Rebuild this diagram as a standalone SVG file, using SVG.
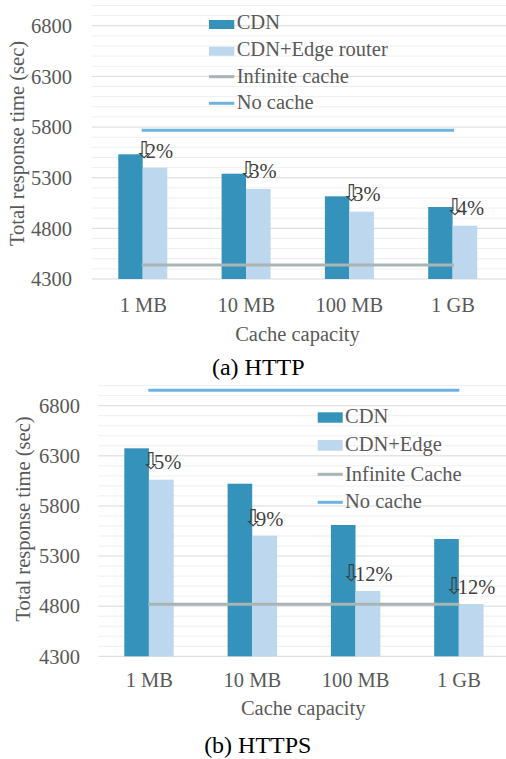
<svg xmlns="http://www.w3.org/2000/svg" width="506" height="759" viewBox="0 0 506 759">
<style>
.t{fill:#595959;font-size:20.5px;font-family:"Liberation Serif","Times New Roman",serif;}
.tick{fill:#595959;font-size:20.5px;text-anchor:end;font-family:"Liberation Serif","Times New Roman",serif;}
.cat{fill:#595959;font-size:20.5px;text-anchor:middle;font-family:"Liberation Serif","Times New Roman",serif;}
.pct{fill:#404040;font-size:20.5px;font-family:"Liberation Serif","Times New Roman",serif;}
.arr{fill:#404040;font-size:23px;font-family:"DejaVu Sans",sans-serif;}
.cap{fill:#000;font-size:24px;text-anchor:middle;font-family:"Liberation Serif","Times New Roman",serif;}
.mj{stroke:#d9d9d9;stroke-width:1;}
.mn{stroke:#efefef;stroke-width:1;}
.cdn{fill:#3593bb;}
.edge{fill:#bdd7ee;}
.inf{stroke:#a9b4b4;stroke-width:3;fill:none;}
.noc{stroke:#6cb2e2;stroke-width:3;fill:none;}
</style>

<!-- ===== Chart (a) HTTP ===== -->
<g id="gridA">
<g class="mn">
<line x1="92" x2="506" y1="5.49" y2="5.49"/><line x1="92" x2="506" y1="15.62" y2="15.62"/>
<line x1="92" x2="506" y1="35.88" y2="35.88"/><line x1="92" x2="506" y1="46.01" y2="46.01"/><line x1="92" x2="506" y1="56.14" y2="56.14"/><line x1="92" x2="506" y1="66.27" y2="66.27"/>
<line x1="92" x2="506" y1="86.53" y2="86.53"/><line x1="92" x2="506" y1="96.66" y2="96.66"/><line x1="92" x2="506" y1="106.79" y2="106.79"/><line x1="92" x2="506" y1="116.92" y2="116.92"/>
<line x1="92" x2="506" y1="137.18" y2="137.18"/><line x1="92" x2="506" y1="147.31" y2="147.31"/><line x1="92" x2="506" y1="157.44" y2="157.44"/><line x1="92" x2="506" y1="167.57" y2="167.57"/>
<line x1="92" x2="506" y1="187.83" y2="187.83"/><line x1="92" x2="506" y1="197.96" y2="197.96"/><line x1="92" x2="506" y1="208.09" y2="208.09"/><line x1="92" x2="506" y1="218.22" y2="218.22"/>
<line x1="92" x2="506" y1="238.48" y2="238.48"/><line x1="92" x2="506" y1="248.61" y2="248.61"/><line x1="92" x2="506" y1="258.74" y2="258.74"/><line x1="92" x2="506" y1="268.87" y2="268.87"/>
</g>
<g class="mj">
<line x1="92" x2="506" y1="25.75" y2="25.75"/><line x1="92" x2="506" y1="76.4" y2="76.4"/><line x1="92" x2="506" y1="127.05" y2="127.05"/><line x1="92" x2="506" y1="177.7" y2="177.7"/><line x1="92" x2="506" y1="228.35" y2="228.35"/><line x1="92" x2="506" y1="279" y2="279"/>
</g>
</g>
<g id="axisA">
<text class="tick" x="72" y="33">6800</text>
<text class="tick" x="72" y="83.6">6300</text>
<text class="tick" x="72" y="134.3">5800</text>
<text class="tick" x="72" y="184.9">5300</text>
<text class="tick" x="72" y="235.6">4800</text>
<text class="tick" x="72" y="286.2">4300</text>
<text class="t" transform="translate(24,143.5) rotate(-90)" text-anchor="middle">Total response time (sec)</text>
<text class="cat" x="143.3" y="311.5">1 MB</text>
<text class="cat" x="246.3" y="311.5">10 MB</text>
<text class="cat" x="349.3" y="311.5">100 MB</text>
<text class="cat" x="453" y="311.5">1 GB</text>
<text class="t" x="297.5" y="340.5" text-anchor="middle">Cache capacity</text>
</g>
<g id="barsA">
<rect class="cdn" x="118.3" y="154.3" width="24.4" height="124.7"/>
<rect class="edge" x="142.7" y="167.7" width="24.6" height="111.3"/>
<rect class="cdn" x="221.6" y="173.7" width="24.4" height="105.3"/>
<rect class="edge" x="246" y="189" width="24.6" height="90"/>
<rect class="cdn" x="324.9" y="196.3" width="24.4" height="82.7"/>
<rect class="edge" x="349.3" y="211.7" width="24.6" height="67.3"/>
<rect class="cdn" x="428.2" y="207" width="24.4" height="72"/>
<rect class="edge" x="452.6" y="225.7" width="24.6" height="53.3"/>
</g>
<g id="linesA">
<line class="inf" x1="141.7" x2="454" y1="265" y2="265"/>
<line class="noc" x1="141.7" x2="454" y1="130.3" y2="130.3"/>
</g>
<g id="labelsA">
<text y="158.3"><tspan class="arr" x="134.5">⇩</tspan><tspan class="pct" x="145.7">2%</tspan></text>
<text y="178.3"><tspan class="arr" x="238.5">⇩</tspan><tspan class="pct" x="249.3">3%</tspan></text>
<text y="201"><tspan class="arr" x="341.8">⇩</tspan><tspan class="pct" x="353.3">3%</tspan></text>
<text y="215"><tspan class="arr" x="445.2">⇩</tspan><tspan class="pct" x="456.7">4%</tspan></text>
</g>
<g id="legendA">
<rect class="cdn" x="209" y="20" width="25.3" height="9"/>
<text class="t" x="236.7" y="29.3">CDN</text>
<rect class="edge" x="209" y="46.7" width="25.3" height="9"/>
<text class="t" x="236.7" y="56">CDN+Edge router</text>
<line class="inf" x1="209" x2="234.3" y1="76.7" y2="76.7"/>
<text class="t" x="236.7" y="82.7">Infinite cache</text>
<line class="noc" x1="209" x2="234.3" y1="103.3" y2="103.3"/>
<text class="t" x="236.7" y="109.3">No cache</text>
</g>
<text class="cap" x="258.3" y="375">(a) HTTP</text>

<!-- ===== Chart (b) HTTPS ===== -->
<g id="gridB">
<g class="mn">
<line x1="98.3" x2="506" y1="385.65" y2="385.65"/><line x1="98.3" x2="506" y1="395.68" y2="395.68"/>
<line x1="98.3" x2="506" y1="415.72" y2="415.72"/><line x1="98.3" x2="506" y1="425.75" y2="425.75"/><line x1="98.3" x2="506" y1="435.77" y2="435.77"/><line x1="98.3" x2="506" y1="445.8" y2="445.8"/>
<line x1="98.3" x2="506" y1="465.84" y2="465.84"/><line x1="98.3" x2="506" y1="475.87" y2="475.87"/><line x1="98.3" x2="506" y1="485.89" y2="485.89"/><line x1="98.3" x2="506" y1="495.92" y2="495.92"/>
<line x1="98.3" x2="506" y1="515.96" y2="515.96"/><line x1="98.3" x2="506" y1="525.99" y2="525.99"/><line x1="98.3" x2="506" y1="536.01" y2="536.01"/><line x1="98.3" x2="506" y1="546.04" y2="546.04"/>
<line x1="98.3" x2="506" y1="566.08" y2="566.08"/><line x1="98.3" x2="506" y1="576.11" y2="576.11"/><line x1="98.3" x2="506" y1="586.13" y2="586.13"/><line x1="98.3" x2="506" y1="596.16" y2="596.16"/>
<line x1="98.3" x2="506" y1="616.2" y2="616.2"/><line x1="98.3" x2="506" y1="626.23" y2="626.23"/><line x1="98.3" x2="506" y1="636.25" y2="636.25"/><line x1="98.3" x2="506" y1="646.28" y2="646.28"/>
</g>
<g class="mj">
<line x1="98.3" x2="506" y1="405.7" y2="405.7"/><line x1="98.3" x2="506" y1="455.82" y2="455.82"/><line x1="98.3" x2="506" y1="505.94" y2="505.94"/><line x1="98.3" x2="506" y1="556.06" y2="556.06"/><line x1="98.3" x2="506" y1="606.18" y2="606.18"/><line x1="98.3" x2="506" y1="656.3" y2="656.3"/>
</g>
</g>
<g id="axisB">
<text class="tick" x="80" y="412.9">6800</text>
<text class="tick" x="80" y="463">6300</text>
<text class="tick" x="80" y="513.1">5800</text>
<text class="tick" x="80" y="563.3">5300</text>
<text class="tick" x="80" y="613.4">4800</text>
<text class="tick" x="80" y="663.5">4300</text>
<text class="t" transform="translate(30,519) rotate(-90)" text-anchor="middle">Total response time (sec)</text>
<text class="cat" x="149.3" y="686.7">1 MB</text>
<text class="cat" x="252.3" y="686.7">10 MB</text>
<text class="cat" x="355.6" y="686.7">100 MB</text>
<text class="cat" x="458.9" y="686.7">1 GB</text>
<text class="t" x="303.2" y="715" text-anchor="middle">Cache capacity</text>
</g>
<g id="barsB">
<rect class="cdn" x="124.3" y="448.3" width="24.6" height="208"/>
<rect class="edge" x="148.9" y="479.7" width="24.8" height="176.6"/>
<rect class="cdn" x="227.6" y="483.7" width="24.6" height="172.6"/>
<rect class="edge" x="252.2" y="535.7" width="24.8" height="120.6"/>
<rect class="cdn" x="330.9" y="525" width="24.6" height="131.3"/>
<rect class="edge" x="355.5" y="591" width="24.8" height="65.3"/>
<rect class="cdn" x="434.2" y="539" width="24.6" height="117.3"/>
<rect class="edge" x="458.8" y="604" width="24.8" height="52.3"/>
</g>
<g id="linesB">
<line class="inf" x1="148.3" x2="459.3" y1="604.3" y2="604.3"/>
<line class="noc" x1="148.3" x2="459.3" y1="390.3" y2="390.3"/>
</g>
<g id="labelsB">
<text y="469.3"><tspan class="arr" x="141.2">⇩</tspan><tspan class="pct" x="154">5%</tspan></text>
<text y="525.7"><tspan class="arr" x="243.5">⇩</tspan><tspan class="pct" x="256">9%</tspan></text>
<text y="580.7"><tspan class="arr" x="341.8">⇩</tspan><tspan class="pct" x="355">12%</tspan></text>
<text y="594"><tspan class="arr" x="444.5">⇩</tspan><tspan class="pct" x="457.7">12%</tspan></text>
</g>
<g id="legendB">
<rect class="cdn" x="317.7" y="412.3" width="25" height="10.4"/>
<text class="t" x="345" y="423.3">CDN</text>
<rect class="edge" x="317.7" y="440" width="25" height="10.7"/>
<text class="t" x="345" y="451">CDN+Edge</text>
<line class="inf" x1="317.7" x2="342.7" y1="474.3" y2="474.3"/>
<text class="t" x="345" y="480.7">Infinite Cache</text>
<line class="noc" x1="317.7" x2="342.7" y1="502.3" y2="502.3"/>
<text class="t" x="345" y="508.3">No cache</text>
</g>
<text class="cap" x="257.8" y="752.5">(b) HTTPS</text>
</svg>
